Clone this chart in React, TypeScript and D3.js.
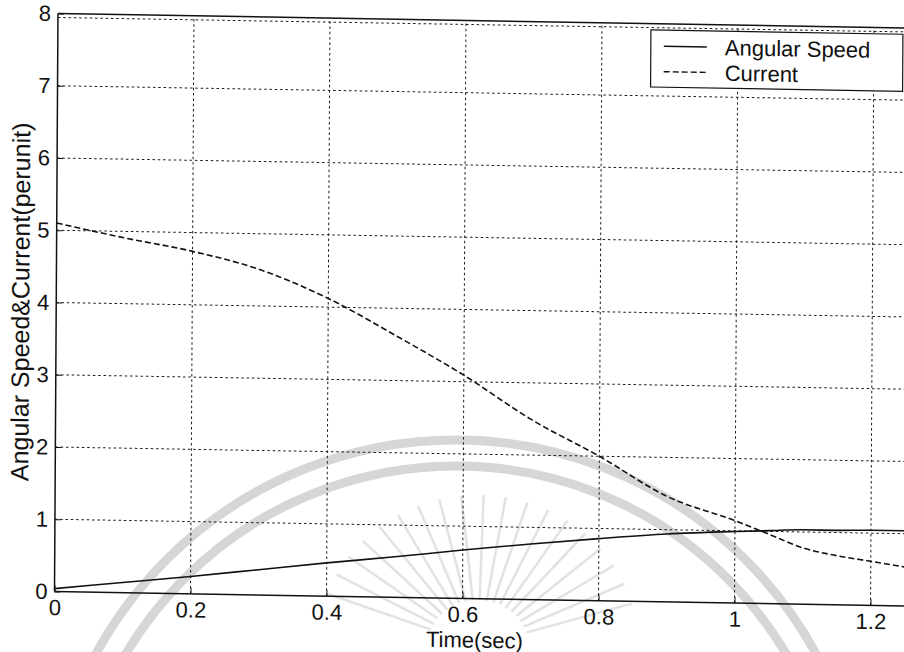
import React, { useEffect, useRef } from 'react';
import * as d3 from 'd3';

// values
const timeSec = [0, 0.1, 0.2, 0.3, 0.4, 0.5, 0.6, 0.7, 0.8, 0.9, 1.0, 1.05, 1.1, 1.15, 1.2, 1.25, 1.3];
const angularSpeed = [0.04, 0.14, 0.24, 0.35, 0.46, 0.56, 0.67, 0.77, 0.86, 0.94, 0.99, 1.01, 1.03, 1.03, 1.04, 1.04, 1.04];
const currentPU = [5.1, 4.91, 4.74, 4.5, 4.12, 3.62, 3.09, 2.49, 2.0, 1.46, 1.14, 0.96, 0.78, 0.68, 0.61, 0.54, 0.48];

const xTicks = [0, 0.2, 0.4, 0.6, 0.8, 1, 1.2];
const yTicks = [0, 1, 2, 3, 4, 5, 6, 7, 8];
const seriesNames = ['Angular Speed', 'Current'];

const W = 904;
const H = 652;
const FONT = '"Liberation Sans", Arial, sans-serif';
const INK = '#111';

const App = () => {
  const chartRef = useRef<SVGSVGElement>(null);

  useEffect(() => {
    drawChart();
  }, []);

  const drawChart = () => {
    const svg = d3.select(chartRef.current);
    svg.selectAll('*').remove();

    svg.append('rect').attr('width', W).attr('height', H).attr('fill', '#fff');

    // faint seal watermark from the scan
    const wm = svg.append('g').attr('fill', 'none');
    [410, 384].forEach(r => {
      wm.append('circle')
        .attr('cx', 456)
        .attr('cy', 850)
        .attr('r', r)
        .attr('stroke', '#d6d6d6')
        .attr('stroke-width', 9);
    });
    d3.range(-160, -15, 8).forEach(a => {
      const rad = (a * Math.PI) / 180;
      wm.append('line')
        .attr('x1', 478 + 50 * Math.cos(rad))
        .attr('y1', 645 + 45 * Math.sin(rad))
        .attr('x2', 478 + 160 * Math.cos(rad))
        .attr('y2', 645 + 150 * Math.sin(rad))
        .attr('stroke', '#e2e2e2')
        .attr('stroke-width', 2.5);
    });

    // the scan is slightly skewed, so the whole plot is drawn in a sheared frame
    const g = svg
      .append('g')
      .attr('transform', 'translate(54.5,591.5) matrix(1,0.017,-0.006,1,0,0)');

    const x = d3.scaleLinear().domain([0, 1.3]).range([0, 1.3 * 680]);
    const y = d3.scaleLinear().domain([0, 8]).range([0, -578]);

    // grid
    const grid = g
      .append('g')
      .attr('stroke', '#1a1a1a')
      .attr('stroke-width', 1)
      .attr('stroke-dasharray', '2.5,2.8');
    xTicks.slice(1).forEach(t => {
      grid.append('line').attr('x1', x(t)).attr('x2', x(t)).attr('y1', y(0)).attr('y2', y(8));
    });
    yTicks.slice(1).forEach(v => {
      const off = v === 8 ? 4 : 0;
      grid.append('line').attr('x1', x(0)).attr('x2', x(1.3)).attr('y1', y(v) + off).attr('y2', y(v) + off);
    });

    // axes
    const xAxis = g
      .append('g')
      .call(
        d3.axisBottom(x)
          .tickValues(xTicks)
          .tickSizeInner(-6)
          .tickSizeOuter(0)
          .tickPadding(8)
          .tickFormat(d => String(d))
      );
    const yAxis = g
      .append('g')
      .call(
        d3.axisLeft(y)
          .tickValues(yTicks)
          .tickSizeInner(-6)
          .tickSizeOuter(0)
          .tickPadding(7)
          .tickFormat(d => String(d))
      );
    [xAxis, yAxis].forEach(ax => {
      ax.attr('font-family', FONT).attr('font-size', 22).attr('color', INK);
      ax.select('.domain').remove();
    });

    // box
    const box = g.append('g').attr('stroke', INK).attr('stroke-width', 1.5);
    box.append('line').attr('x1', x(0)).attr('x2', x(1.3)).attr('y1', y(0)).attr('y2', y(0));
    box.append('line').attr('x1', x(0)).attr('x2', x(0)).attr('y1', y(0)).attr('y2', y(8));
    box.append('line').attr('x1', x(0)).attr('x2', x(1.3)).attr('y1', y(8)).attr('y2', y(8));

    // curves
    const line = d3
      .line<number>()
      .x((d, i) => x(timeSec[i]))
      .y(d => y(d))
      .curve(d3.curveMonotoneX);

    g.append('path')
      .attr('d', line(angularSpeed))
      .attr('fill', 'none')
      .attr('stroke', INK)
      .attr('stroke-width', 1.6);

    g.append('path')
      .attr('d', line(currentPU))
      .attr('fill', 'none')
      .attr('stroke', INK)
      .attr('stroke-width', 1.6)
      .attr('stroke-dasharray', '6,3');

    // labels
    g.append('text')
      .attr('x', x(0.618))
      .attr('y', 49)
      .attr('text-anchor', 'middle')
      .attr('font-family', FONT)
      .attr('font-size', 22)
      .attr('fill', INK)
      .text('Time(sec)');

    g.append('text')
      .attr('transform', `translate(-27,${y(4)}) rotate(-90)`)
      .attr('text-anchor', 'middle')
      .attr('font-family', FONT)
      .attr('font-size', 25)
      .attr('fill', INK)
      .text('Angular Speed&Current(perunit)');

    // legend
    const lg = g.append('g').attr('transform', 'translate(593,-571.6)');
    lg.append('rect')
      .attr('width', 252)
      .attr('height', 57)
      .attr('fill', '#fff')
      .attr('stroke', INK)
      .attr('stroke-width', 1.2);
    seriesNames.forEach((name, i) => {
      const ly = 16 + i * 25.5;
      lg.append('line')
        .attr('x1', 13)
        .attr('x2', 56)
        .attr('y1', ly)
        .attr('y2', ly)
        .attr('stroke', INK)
        .attr('stroke-width', 1.4)
        .attr('stroke-dasharray', i === 1 ? '6,3' : null);
      lg.append('text')
        .attr('x', 74)
        .attr('y', ly + 8)
        .attr('font-family', FONT)
        .attr('font-size', 22)
        .attr('fill', INK)
        .text(name);
    });
  };

  return (
    <div style={{ position: 'absolute', left: 0, top: 0 }}>
      <svg ref={chartRef} width={W} height={H}></svg>
    </div>
  );
};

export default App;
